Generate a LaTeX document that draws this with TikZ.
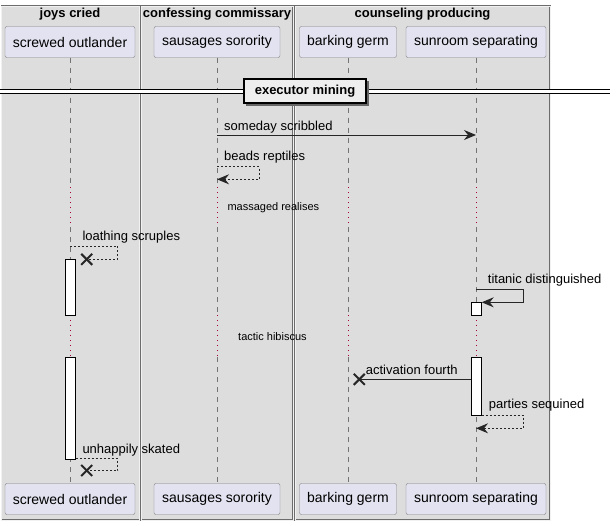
\documentclass[tikz,border=0pt]{standalone}
\usepackage{fontspec}
\setmainfont{Liberation Sans}
\usepackage{tikz}
\usetikzlibrary{calc,arrows.meta}
\usepackage{xcolor}
\definecolor{boxgray}{HTML}{DDDDDD}
\definecolor{partfill}{HTML}{E2E2F0}
\definecolor{partdraw}{HTML}{808080}
\definecolor{delayred}{HTML}{A80036}
\definecolor{divfill}{HTML}{EEEEEE}
\tikzstyle{boxframe}=[fill=boxgray, draw=gray!85!black, line width=0.5pt, double=white!60!boxgray, double distance=0.7pt]
\tikzstyle{boxtitle}=[font=\fontsize{13}{15}\selectfont\bfseries, inner sep=0pt]
\tikzstyle{part}=[draw=partdraw, fill=partfill, rounded corners=2pt, minimum height=31pt, inner sep=0pt, font=\fontsize{14}{16}\selectfont]
\tikzstyle{lifeline}=[draw=gray!90!black, line width=0.7pt, dash pattern=on 5pt off 5pt]
\tikzstyle{delayline}=[draw=delayred, line width=0.9pt, dash pattern=on 0.9pt off 4.1pt]
\tikzstyle{msg}=[draw=black!85, line width=1pt, -{Stealth[length=12pt,width=10pt,inset=4pt]}]
\tikzstyle{reply}=[msg, dash pattern=on 2pt off 2pt]
\tikzstyle{activ}=[draw=black, fill=white, line width=1pt]
\tikzstyle{lbl}=[font=\fontsize{13}{15}\selectfont, anchor=west, inner sep=0pt]
\tikzstyle{dlbl}=[font=\fontsize{11}{13}\selectfont, anchor=west, inner sep=0pt]
\newcommand{\delayA}{187}
\newcommand{\delayB}{227}
\newcommand{\delayC}{315}
\newcommand{\delayD}{357}
\newcommand{\destroyX}[1]{
\draw[line width=2pt, black!85] ($(#1)+(-5.5,-5.5)$) -- ($(#1)+(5.5,5.5)$);
\draw[line width=2pt, black!85] ($(#1)+(-5.5,5.5)$) -- ($(#1)+(5.5,-5.5)$);
}

\begin{document}
\begin{tikzpicture}[x=1pt,y=-1pt]
\useasboundingbox (0,0) rectangle (616,525);
% boxes
\draw[boxframe] (1.5,6) rectangle (139.5,520);
\draw[boxframe] (141,6) rectangle (293,520);
\draw[boxframe] (295,6) rectangle (550,520);
\node[boxtitle] (bt1) at (70,14.5) {joys cried};
\node[boxtitle] (bt2) at (217,14.5) {confessing commissary};
\node[boxtitle] (bt3) at (422.5,14.5) {counseling producing};
% participants
\foreach \p/\x/\w/\t in {so/70/130/screwed outlander, ss/217/126/sausages sorority, bg/348/97/barking germ, sr/476/140/sunroom separating} {
	\node[part, minimum width=\w pt] (\p-top) at (\x,42) {\t};
	\node[part, minimum width=\w pt] (\p-bot) at (\x,499) {\t};
}
% lifelines with delays
\coordinate (dly1s) at (0,\delayA);
\coordinate (dly1e) at (0,\delayB);
\coordinate (dly2s) at (0,\delayC);
\coordinate (dly2e) at (0,\delayD);
\foreach \p in {so,ss,bg,sr} {
	\draw[lifeline] (\p-top.south) -- (\p-top |- dly1s);
	\draw[delayline] (\p-top |- dly1s) -- (\p-top |- dly1e);
	\draw[lifeline] (\p-top |- dly1e) -- (\p-top |- dly2s);
	\draw[delayline] (\p-top |- dly2s) -- (\p-top |- dly2e);
	\draw[lifeline] (\p-top |- dly2e) -- (\p-bot.north);
}
% divider
\coordinate (divL) at (0,91.5);
\coordinate (divR) at (610,91.5);
\draw[line width=1pt, double=white, double distance=3pt] (divL) -- (divR);
\fill[black!60] (246,81) rectangle (369,106);
\node[draw=black, line width=1.5pt, fill=divfill, minimum width=122pt, minimum height=24pt, inner sep=0pt, font=\fontsize{13}{15}\selectfont\bfseries] (divider) at (305,91) {executor mining};
% activations
\draw[activ] (65.3,259.3) rectangle (75.7,315.5);
\draw[activ] (65.3,357) rectangle (75.7,459.3);
\draw[activ] (471.3,302.3) rectangle (481.7,315.5);
\draw[activ] (471.3,357) rectangle (481.7,415.7);
% someday scribbled
\coordinate (m1a) at (217,135);
\coordinate (m1b) at (476,135);
\draw[msg] (m1a) -- (m1b);
\node[lbl] (t1) at (224,127) {someday scribbled};
% beads reptiles
\coordinate (m2a) at (217,166.7);
\coordinate (m2b) at (259,166.7);
\coordinate (m2c) at (259,179.3);
\coordinate (m2d) at (217,179.3);
\draw[reply] (m2a) -- (m2b) -- (m2c) -- (m2d);
\node[lbl] (t2) at (224,157) {beads reptiles};
\node[dlbl] (t3) at (227.3,208) {massaged realises};
% loathing scruples
\coordinate (m3a) at (70,246);
\coordinate (m3b) at (117.7,246);
\coordinate (m3c) at (117.7,259.3);
\coordinate (m3d) at (86.7,259.3);
\draw[draw=black!85, line width=1pt, dash pattern=on 2pt off 2pt] (m3a) -- (m3b) -- (m3c) -- (m3d);
\destroyX{m3d}
\node[lbl] (t4) at (82.3,237) {loathing scruples};
% titanic distinguished
\coordinate (m4a) at (476,289.3);
\coordinate (m4b) at (523.3,289.3);
\coordinate (m4c) at (523.3,302.3);
\coordinate (m4d) at (481.7,302.3);
\draw[msg] (m4a) -- (m4b) -- (m4c) -- (m4d);
\node[lbl] (t5) at (487.7,280) {titanic distinguished};
\node[dlbl] (t6) at (238,337) {tactic hibiscus};
% activation fourth
\coordinate (m5a) at (471.3,379.3);
\coordinate (m5b) at (359.3,379.3);
\draw[draw=black!85, line width=1pt] (m5a) -- (m5b);
\destroyX{m5b}
\node[lbl] (t7) at (365.7,370) {activation fourth};
% parties sequined
\coordinate (m6a) at (481.7,415.3);
\coordinate (m6b) at (523.3,415.3);
\coordinate (m6c) at (523.3,428.3);
\coordinate (m6d) at (476,428.3);
\draw[reply] (m6a) -- (m6b) -- (m6c) -- (m6d);
\node[lbl] (t8) at (488.7,405.3) {parties sequined};
% unhappily skated
\coordinate (m7a) at (75.7,458.7);
\coordinate (m7b) at (117.7,458.7);
\coordinate (m7c) at (117.7,470.5);
\coordinate (m7d) at (86.7,470.5);
\draw[draw=black!85, line width=1pt, dash pattern=on 2pt off 2pt] (m7a) -- (m7b) -- (m7c) -- (m7d);
\destroyX{m7d}
\node[lbl] (t9) at (82.3,450) {unhappily skated};
\end{tikzpicture}
\end{document}
